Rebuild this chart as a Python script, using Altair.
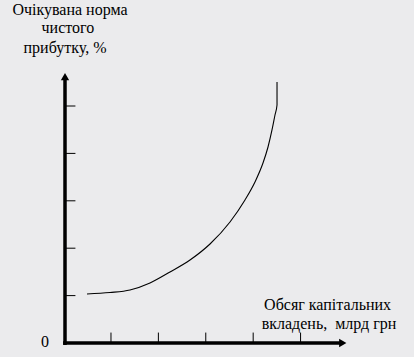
import altair as alt
import pandas as pd

# Curve values (investment volume vs expected net profit rate), in axis units
curve_x = [0.464, 0.949, 1.371, 1.793, 2.215, 2.637, 3.059, 3.481, 3.797, 4.008,
           4.177, 4.283, 4.367, 4.430, 4.473, 4.473]
curve_y = [1.034, 1.065, 1.118, 1.266, 1.498, 1.751, 2.089, 2.553, 3.017, 3.397,
           3.797, 4.135, 4.494, 4.810, 5.021, 5.506]

tick_values = [1, 2, 3, 4, 5]
y_title_lines = ["Очікувана норма", "чистого", "прибутку, %"]
x_title_lines = ["Обсяг капітальних", "вкладень,\u00a0 млрд грн"]
origin_label = "0"

U = 47.4  # pixels per unit
X0, Y0 = 65, 343
W, H = 414, 357
xs = alt.Scale(domain=[-X0 / U, (W - X0) / U], nice=False, zero=False)
ys = alt.Scale(domain=[-(H - Y0) / U, Y0 / U], nice=False, zero=False)

def X(f="x", **kw):
    return alt.X(f, type="quantitative", scale=xs, axis=None, **kw)

def Y(f="y", **kw):
    return alt.Y(f, type="quantitative", scale=ys, axis=None, **kw)

curve_df = pd.DataFrame({"x": curve_x, "y": curve_y, "o": range(len(curve_x))})
curve = alt.Chart(curve_df).mark_line(color="black", strokeWidth=1.1, interpolate="monotone").encode(
    x=X(), y=Y(), order="o:Q")

# axes lines
axes_df = pd.DataFrame({"x": [0.0, -0.04], "y": [-0.04, 0.0], "x2": [0.0, 5.85], "y2": [5.6, 0.0]})
axes = alt.Chart(axes_df).mark_rule(color="black", strokeWidth=3.5).encode(
    x=X(), y=Y(), x2="x2", y2="y2")

# ticks
yt_df = pd.DataFrame({"x": [0.0] * 5, "x2": [0.22] * 5, "y": tick_values})
ytick = alt.Chart(yt_df).mark_rule(color="black", strokeWidth=1).encode(x=X(), x2="x2", y=Y())
xt_df = pd.DataFrame({"y": [0.0] * 5, "y2": [0.22] * 5, "x": [v - 0.03 for v in tick_values]})
xtick = alt.Chart(xt_df).mark_rule(color="black", strokeWidth=1).encode(y=Y(), y2="y2", x=X())

# arrow heads
arr_up = alt.Chart(pd.DataFrame({"x": [0.0], "y": [5.62]})).mark_point(
    shape="triangle-up", filled=True, color="black", size=70, opacity=1).encode(x=X(), y=Y())
arr_right = alt.Chart(pd.DataFrame({"x": [5.86], "y": [0.0]})).mark_point(
    shape="triangle-right", filled=True, color="black", size=70, opacity=1).encode(x=X(), y=Y())

FONT = "Liberation Serif"
ytitle_df = pd.DataFrame({"t": y_title_lines, "x": [0.105, 0.06, 0.0], "y": [6.92, 6.54, 6.12]})
ytitle = alt.Chart(ytitle_df).mark_text(font=FONT, fontSize=16, color="black", align="center",
                                        baseline="alphabetic").encode(x=X(), y=Y(), text="t")
xtitle_df = pd.DataFrame({"t": x_title_lines, "x": [5.54, 5.57], "y": [0.70, 0.295]})
xtitle = alt.Chart(xtitle_df).mark_text(font=FONT, fontSize=16, color="black", align="center",
                                        baseline="alphabetic").encode(x=X(), y=Y(), text="t")
zero_df = pd.DataFrame({"t": [origin_label], "x": [-0.42], "y": [-0.084]})
zero = alt.Chart(zero_df).mark_text(font=FONT, fontSize=16, color="black", align="center",
                                    baseline="alphabetic").encode(x=X(), y=Y(), text="t")

chart = alt.layer(axes, ytick, xtick, curve, arr_up, arr_right, ytitle, xtitle, zero).properties(
    width=W, height=H, padding=0, autosize=alt.AutoSizeParams(type="none"),
    background="#ebebed"
).configure_view(stroke=None)

chart.save("out.html", embed_options={"renderer": "svg", "actions": False})
